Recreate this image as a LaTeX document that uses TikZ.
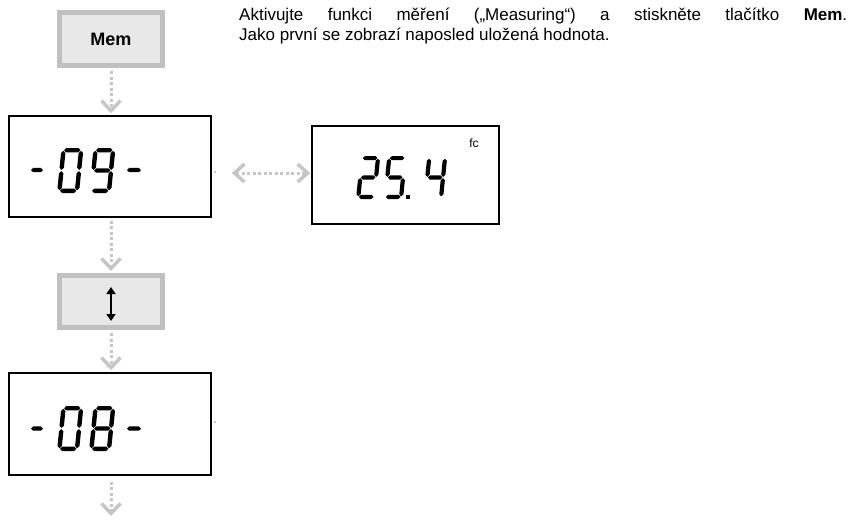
\documentclass[tikz,border=0pt]{standalone}
\usepackage{fontspec}
\setmainfont{Liberation Sans}
\usetikzlibrary{arrows.meta}
\definecolor{dotgray}{HTML}{C6C6C6}
\definecolor{keyfill}{HTML}{E8E8E8}
\definecolor{keyedge}{HTML}{C0C0C0}

% LCD segment helpers (local coords: u to the right, v upward)
\newcommand\hseg[3]{\fill ({#2+\Sg},{-(#1)}) -- ({#2+\Sg+\ST/2},{-(#1)-\ST/2}) -- ({#3-\Sg-\ST/2},{-(#1)-\ST/2}) -- ({#3-\Sg},{-(#1)}) -- ({#3-\Sg-\ST/2},{-(#1)+\ST/2}) -- ({#2+\Sg+\ST/2},{-(#1)+\ST/2}) -- cycle;}
\newcommand\vseg[3]{\fill ({#1},{-(#2)-\Sg}) -- ({#1+\ST/2},{-(#2)-\Sg-\ST/2}) -- ({#1+\ST/2},{-(#3)+\Sg+\ST/2}) -- ({#1},{-(#3)+\Sg}) -- ({#1-\ST/2},{-(#3)+\Sg+\ST/2}) -- ({#1-\ST/2},{-(#2)-\Sg-\ST/2}) -- cycle;}
\newcommand\segA{\hseg{\SH-\ST/2}{\ST/2}{\SW-\ST/2}}
\newcommand\segB{\vseg{\SW-\ST/2}{\SH/2}{\SH-\ST/2}}
\newcommand\segC{\vseg{\SW-\ST/2}{\ST/2}{\SH/2}}
\newcommand\segD{\hseg{\ST/2}{\ST/2}{\SW-\ST/2}}
\newcommand\segE{\vseg{\ST/2}{\ST/2}{\SH/2}}
\newcommand\segF{\vseg{\ST/2}{\SH/2}{\SH-\ST/2}}
\newcommand\segG{\hseg{\SH/2}{\ST/2}{\SW-\ST/2}}
\newcommand\lcd[6]{\begin{scope}[shift={(#1,#2)}, xslant=0.1]\def\SW{#3}\def\SH{#4}\def\ST{#5}\def\Sg{0.6}#6\end{scope}}
\newcommand\lcddash[3]{\begin{scope}[shift={(#1,#3)}]\def\ST{4.4}\def\Sg{0}\hseg{0}{0}{#2-#1}\end{scope}}

\tikzset{
  keybox/.style={draw=keyedge, fill=keyfill, line width=5pt, minimum width=103pt, minimum height=53pt, inner sep=0pt},
  lcdbox/.style={draw=black, line width=1.6pt, inner sep=0pt},
  conn/.style={draw=dotgray, line width=3pt, dash pattern=on 3pt off 2.5pt, -{Straight Barb[length=10pt,width=19pt,line width=3.5pt]}},
  conntwo/.style={draw=dotgray, line width=3pt, dash pattern=on 3pt off 2.5pt, {Straight Barb[length=10pt,width=18pt,line width=3.5pt]}-{Straight Barb[length=10pt,width=18pt,line width=3.5pt]}}
}

\begin{document}
\begin{tikzpicture}[x=1pt,y=-1pt]
\useasboundingbox (0,0) rectangle (858,520);

% keys and displays
\node[keybox] (mem) at (111,39) {\fontsize{18}{21}\selectfont\bfseries Mem};
\node[lcdbox, minimum width=202pt, minimum height=101pt] (d09) at (110,166.5) {};
\node[lcdbox, minimum width=187pt, minimum height=98pt] (d254) at (405.5,175) {};
\node[keybox, minimum height=52pt] (ud) at (111,301.5) {};
\node[lcdbox, minimum width=202pt, minimum height=102pt] (d08) at (110,424) {};
\node[font=\fontsize{12}{14}\selectfont, inner sep=0pt] (fc) at (474,143) {fc};
\coordinate (end) at (111,516);

% up/down symbol in key
\draw[line width=2.2pt, {Triangle[length=7pt,width=9pt]}-{Triangle[length=7pt,width=9pt]}] ([yshift=-19.5pt]ud.center) -- ([yshift=14.5pt]ud.center);

% connectors
\draw[conn, shorten <=3pt, shorten >=2pt] (mem.south) -- (mem.south |- d09.north);
\draw[conn, shorten <=3pt, shorten >=2pt] (ud.north |- d09.south) -- (ud.north);
\draw[conn, shorten <=3pt, shorten >=2pt] (ud.south) -- (ud.south |- d08.north);
\draw[conn, shorten <=6pt] (ud.south |- d08.south) -- (end);
\draw[conntwo, shorten <=20pt, shorten >=1pt] ([yshift=2pt]d09.east |- d254.west) -- ([yshift=2pt]d254.west);
\fill[dotgray] (214,171) rectangle (216,173);
\fill[dotgray] (214,421) rectangle (216,423);

% LCD contents
\lcddash{31}{43}{170}
\lcd{57}{193}{22}{45}{4.4}{\segA\segB\segC\segD\segE\segF}
\lcd{89}{193}{22}{45}{4.4}{\segA\segB\segC\segD\segF\segG}
\lcddash{127}{141}{170}

\lcddash{31}{43}{428.5}
\lcd{57}{451}{22}{45}{4.4}{\segA\segB\segC\segD\segE\segF}
\lcd{89}{451}{22}{45}{4.4}{\segA\segB\segC\segD\segE\segF\segG}
\lcddash{127}{141}{428.5}

\lcd{356}{199}{20}{43}{4.2}{\segA\segB\segG\segE\segD}
\lcd{383}{199}{20}{43}{4.2}{\segA\segF\segG\segC\segD}
\fill (406,195) rectangle (410,199);
\lcd{423}{199}{20}{43}{4.2}{\segF\segG\segB\segC}

% description
\node[anchor=base west, text width=608pt, align=justify, inner sep=0pt, font=\fontsize{17}{20}\selectfont] (txt) at (239,20) {Aktivujte funkci měření („Measuring“) a stiskněte tlačítko \textbf{Mem}.\linebreak Jako první se zobrazí naposled uložená hodnota.};
\end{tikzpicture}
\end{document}
